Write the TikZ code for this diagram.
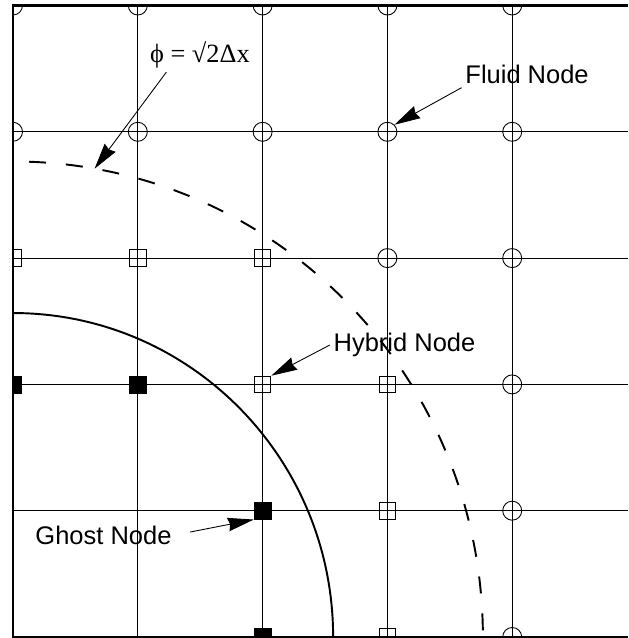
\documentclass[tikz,border=0pt]{standalone}
\usepackage{fontspec}
\setmainfont{Liberation Sans}
\newfontfamily\timesfont{Liberation Serif}
\usetikzlibrary{arrows.meta}

\begin{document}
\begin{tikzpicture}[x=2.496cm,y=2.526cm,gridline/.style={line width=0.6pt},frame/.style={line width=1.4pt},fluid/.style={draw,circle,minimum size=0.38cm,inner sep=0pt,line width=0.5pt},hybrid/.style={draw,rectangle,minimum size=0.33cm,inner sep=0pt,line width=0.5pt},ghost/.style={draw,fill=black,rectangle,minimum size=0.34cm,inner sep=0pt},wall/.style={line width=1.1pt},band/.style={line width=1.1pt,dash pattern=on 0.34cm off 0.4cm,dash phase=0.42cm},lbl/.style={font=\fontsize{14.5}{17}\selectfont,inner sep=2pt},ptr/.style={-{Stealth[length=0.52cm,width=0.27cm,inset=0.04cm]},line width=0.5pt}]
\useasboundingbox (-0.1042,-0.0079) rectangle (4.928,5.0436);
\draw[gridline] (1,0) -- (1,5);
\draw[gridline] (2,0) -- (2,5);
\draw[gridline] (3,0) -- (3,5);
\draw[gridline] (4,0) -- (4,5);
\draw[gridline] (0,1) -- (4.928,1);
\draw[gridline] (0,2) -- (4.928,2);
\draw[gridline] (0,3) -- (4.928,3);
\draw[gridline] (0,4) -- (4.928,4);
\begin{scope}
\clip (0,0) rectangle (4.928,5);
\draw[wall] (0,2.565) arc[start angle=90,end angle=0,radius=2.565];
\draw[band] (0,3.765) arc[start angle=90,end angle=0,radius=3.765];
\node[fluid] (f05) at (0,5) {};
\node[fluid] (f15) at (1,5) {};
\node[fluid] (f25) at (2,5) {};
\node[fluid] (f35) at (3,5) {};
\node[fluid] (f45) at (4,5) {};
\node[fluid] (f04) at (0,4) {};
\node[fluid] (f14) at (1,4) {};
\node[fluid] (f24) at (2,4) {};
\node[fluid] (f34) at (3,4) {};
\node[fluid] (f44) at (4,4) {};
\node[fluid] (f33) at (3,3) {};
\node[fluid] (f43) at (4,3) {};
\node[fluid] (f42) at (4,2) {};
\node[fluid] (f41) at (4,1) {};
\node[fluid] (f40) at (4,0) {};
\node[hybrid] (h03) at (0,3) {};
\node[hybrid] (h13) at (1,3) {};
\node[hybrid] (h23) at (2,3) {};
\node[hybrid] (h22) at (2,2) {};
\node[hybrid] (h32) at (3,2) {};
\node[hybrid] (h31) at (3,1) {};
\node[hybrid] (h30) at (3,0) {};
\node[ghost] (g02) at (0,2) {};
\node[ghost] (g12) at (1,2) {};
\node[ghost] (g21) at (2,1) {};
\node[ghost] (g20) at (2,0) {};
\end{scope}
\draw[frame] (4.928,5) -- (0,5) -- (0,0) -- (4.928,0);
\coordinate (bandpt) at (80:3.765);
\node[inner sep=2pt,font=\timesfont\fontsize{15}{18}\selectfont] (phil) at (1.498,4.608) {ϕ = √2Δx};
\node[lbl] (fluidlbl) at (4.119,4.454) {Fluid Node};
\node[lbl] (hyblbl) at (3.137,2.312) {Hybrid Node};
\node[lbl] (ghostlbl) at (0.725,0.808) {Ghost Node};
\draw[ptr] (phil.207) -- (bandpt);
\draw[ptr] (fluidlbl.south west) -- (f34.north east);
\draw[ptr] (hyblbl.west) -- (h22.north east);
\draw[ptr,shorten <=0.3cm] (ghostlbl.east) -- (g21.south west);
\end{tikzpicture}
\end{document}
